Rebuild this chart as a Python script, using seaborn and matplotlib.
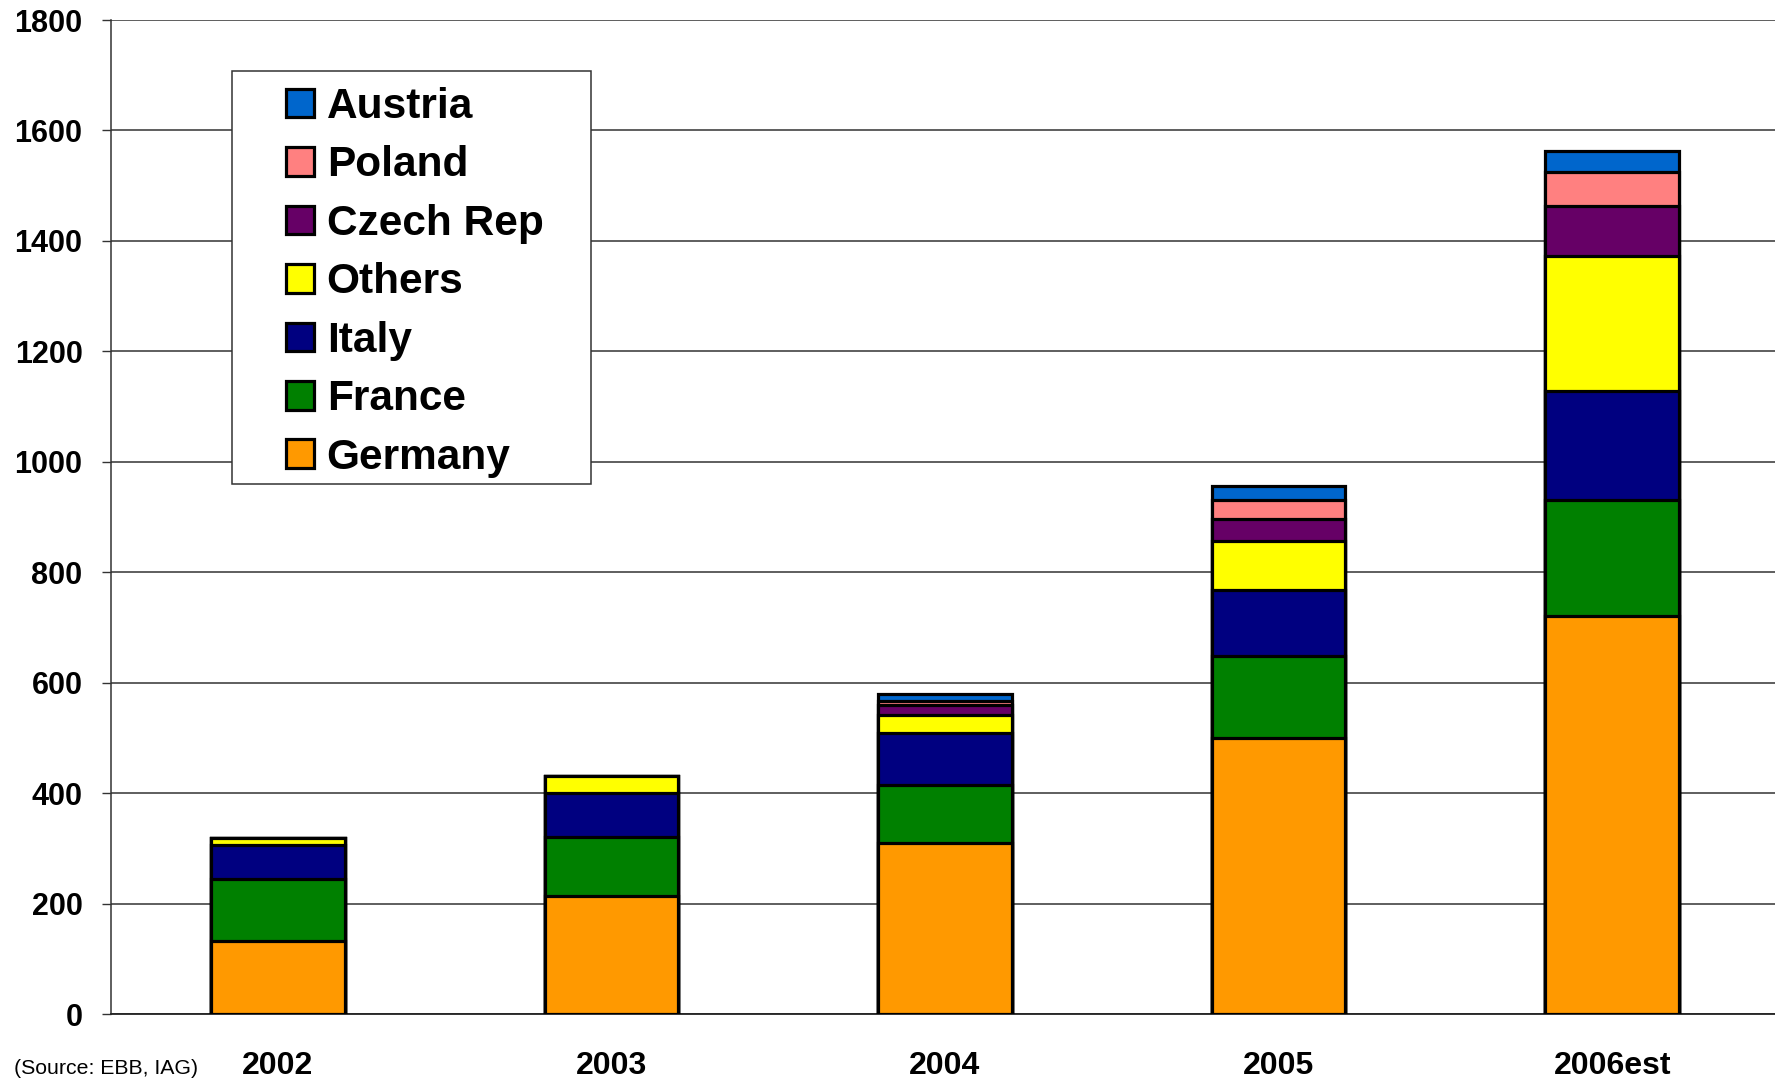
import numpy as np
import pandas as pd
import matplotlib
matplotlib.use("Agg")
import matplotlib.pyplot as plt
import seaborn as sns
from matplotlib.patches import Patch, Rectangle

# ---- data ----
years = ["2002", "2003", "2004", "2005", "2006est"]
germany = [132, 213, 310, 500, 720]
france = [113, 108, 105, 148, 210]
italy = [61, 80, 94, 120, 198]
others = [12, 30, 33, 89, 245]
czech = [0, 0, 18, 40, 91]
poland = [0, 0, 7, 34, 60]
austria = [0, 0, 12, 25, 38]
series_names = ["Germany", "France", "Italy", "Others", "Czech Rep", "Poland", "Austria"]
series_values = [germany, france, italy, others, czech, poland, austria]
colors = ["#FF9900", "#008000", "#000080", "#FFFF00", "#660066", "#FF8080", "#0066CC"]
yticks = list(range(0, 1801, 200))
source_text = "(Source: EBB, IAG)"

sns.set_style("white")
plt.rcParams["font.family"] = ["Liberation Sans", "DejaVu Sans"]
plt.rcParams["text.color"] = "black"
plt.rcParams["xtick.color"] = "black"
plt.rcParams["ytick.color"] = "black"
plt.rcParams["xtick.labelcolor"] = "black"
plt.rcParams["ytick.labelcolor"] = "black"

W, H = 1775, 1082
fig = plt.figure(figsize=(W / 100, H / 100), dpi=100)
ax = fig.add_axes([111 / W, 1 - 1014 / H, 1668 / W, (1014 - 20) / H])

# cumulative stacks, drawn from the top segment down
df = pd.DataFrame({n: v for n, v in zip(series_names, series_values)}, index=years)
cum = df.cumsum(axis=1)
for name, col in reversed(list(zip(series_names, colors))):
    d = pd.DataFrame({"year": years, "value": cum[name].values})
    sns.barplot(data=d, x="year", y="value", color=col, width=0.4,
                edgecolor="black", linewidth=2.3, saturation=1, ax=ax, zorder=3)

ax.set_xlim(-0.5, 4.5)
ax.set_ylim(0, 1800)
ax.set_yticks(yticks)
ax.set_yticklabels([str(t) for t in yticks], fontsize=22, fontweight="bold", color="black")
ax.set_xticks(range(len(years)))
ax.set_xticklabels(years, fontsize=23, fontweight="bold", color="black")
ax.set_xticks(np.arange(-0.5, len(years) - 0.5, 1.0), minor=True)
ax.tick_params(axis="x", which="major", length=0, pad=27)
ax.tick_params(axis="x", which="minor", length=7, width=1.2, color="#555555", direction="out")
ax.tick_params(axis="y", which="major", length=6.5, width=1, color="#333333", pad=14, direction="out", left=True)
ax.set_xlabel("")
ax.set_ylabel("")
ax.yaxis.grid(True, color="#333333", linewidth=1.1, zorder=0)
ax.set_axisbelow(True)
for s in ["top", "right"]:
    ax.spines[s].set_visible(False)
ax.spines["left"].set_color("#333333")
ax.spines["left"].set_linewidth(1.1)
ax.spines["bottom"].set_color("#222222")
ax.spines["bottom"].set_linewidth(1.3)

# legend
handles = [Patch(facecolor=c, edgecolor="black", linewidth=2.3, label=n)
           for n, c in zip(series_names, colors)][::-1]
leg = fig.legend(handles=handles, loc="upper left",
                 bbox_to_anchor=(286 / W, 1 - 87 / H), frameon=False,
                 borderpad=0, borderaxespad=0,
                 prop={"size": 30.5, "weight": "bold"},
                 handlelength=0.66, handleheight=0.66, handletextpad=0.3,
                 labelspacing=0.435)
for t in leg.get_texts():
    t.set_color("black")
fig.patches.append(Rectangle((232 / W, 1 - 484 / H), (591 - 232) / W, (484 - 71) / H,
                             transform=fig.transFigure, facecolor="white",
                             edgecolor="#333333", linewidth=1.1, zorder=4))
leg.set_zorder(5)

fig.text(14 / W, 1 - 1069 / H, source_text, fontsize=15.3, va="center", ha="left", color="black")

fig.savefig("out.png", dpi=100)
